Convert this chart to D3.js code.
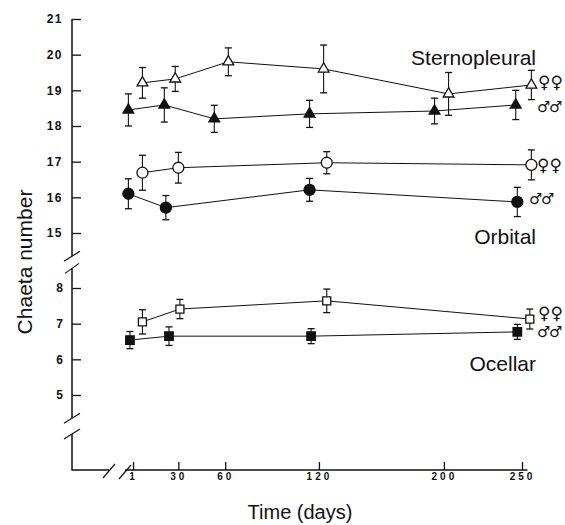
<!DOCTYPE html>
<html lang="en">
<head>
<meta charset="UTF-8">
<title>Chaeta number</title>
<script src="https://cdn.jsdelivr.net/npm/d3@7"></script>
<style>
  body { margin: 0; background: #fff; }
  text { fill: #111; }
</style>
</head>
<body>
<script>
// tick values
var dayTicks = [1, 30, 60, 120, 200, 250];
var yTicksTop = [15, 16, 17, 18, 19, 20, 21];
var yTicksLow = [5, 6, 7, 8];

// plotted day positions (males sit a little left of the tick, females right)
var sternoFemaleDay = [7, 28, 62, 123, 203, 256];
var sternoFemale = [19.21, 19.32, 19.80, 19.60, 18.90, 19.15];
var sternoFemaleSe = [0.43, 0.35, 0.39, 0.67, 0.60, 0.41];
var sternoMaleDay = [-2, 21, 53, 114, 194, 246];
var sternoMale = [18.45, 18.59, 18.20, 18.34, 18.42, 18.59];
var sternoMaleSe = [0.45, 0.48, 0.38, 0.38, 0.36, 0.41];

var orbitalFemaleDay = [7, 30, 125, 256];
var orbitalFemale = [16.69, 16.83, 16.97, 16.91];
var orbitalFemaleSe = [0.49, 0.43, 0.31, 0.42];
var orbitalMaleDay = [-2, 22, 114, 247];
var orbitalMale = [16.10, 15.71, 16.21, 15.87];
var orbitalMaleSe = [0.42, 0.34, 0.32, 0.41];

var ocellarFemaleDay = [7, 31, 125, 255];
var ocellarFemale = [7.05, 7.41, 7.64, 7.13];
var ocellarFemaleSe = [0.34, 0.27, 0.33, 0.28];
var ocellarMaleDay = [-1, 24, 115, 247];
var ocellarMale = [6.54, 6.65, 6.65, 6.77];
var ocellarMaleSe = [0.24, 0.26, 0.21, 0.21];

var width = 565, height = 525;
var ink = "#111";
var axisX = 72, axisY = 470;

var svg = d3.select("body").append("svg")
    .attr("width", width)
    .attr("height", height);

var x = d3.scaleLinear().domain([0, 250]).range([131.5, 522]);
var yTop = d3.scaleLinear().domain([15, 21]).range([233, 19]);
var yLow = d3.scaleLinear().domain([5, 8]).range([395, 288]);

// ---- axes ----
function styleAxis(g) {
    g.select(".domain").remove();
    g.selectAll("line").attr("stroke", ink).attr("stroke-width", 1.3);
    g.selectAll("text")
        .attr("font-family", "Liberation Sans, Arial, sans-serif")
        .attr("font-weight", "bold")
        .style("fill", ink);
}

svg.append("g")
    .attr("transform", "translate(" + axisX + ",0)")
    .call(d3.axisLeft(yTop).tickValues(yTicksTop).tickFormat(d3.format("d"))
        .tickSizeInner(-9).tickSizeOuter(0).tickPadding(9))
    .call(styleAxis)
    .selectAll("text").attr("font-size", 12).attr("letter-spacing", 1.5);

svg.append("g")
    .attr("transform", "translate(" + axisX + ",0)")
    .call(d3.axisLeft(yLow).tickValues(yTicksLow).tickFormat(d3.format("d"))
        .tickSizeInner(-9).tickSizeOuter(0).tickPadding(9))
    .call(styleAxis)
    .selectAll("text").attr("font-size", 12);

svg.append("g")
    .attr("transform", "translate(0," + axisY + ")")
    .call(d3.axisBottom(x).tickValues(dayTicks).tickFormat(d3.format("d"))
        .tickSizeInner(-8).tickSizeOuter(0).tickPadding(3))
    .call(styleAxis)
    .selectAll("text").attr("font-size", 10).attr("letter-spacing", 3);

// axis lines with breaks
var axisPaths = [
    [[axisX, yTop(21)], [axisX, yTop(14.35)]],
    [[axisX, yLow(8.55)], [axisX, yLow(4.35)]],
    [[axisX, 434], [axisX, axisY], [109, axisY]],
    [[125, axisY], [x(253.5), axisY]]
];
var lineGen = d3.line();
svg.selectAll("path.axisline")
    .data(axisPaths)
    .enter().append("path")
    .attr("class", "axisline")
    .attr("d", lineGen)
    .attr("fill", "none")
    .attr("stroke", ink)
    .attr("stroke-width", 1.5);

// break slashes
var slashes = [
    [axisX, yTop(14.35), 8, 5],
    [axisX, yLow(8.55), 7, 5],
    [axisX, yLow(4.35), 8, 5],
    [axisX, 434, 8, 5],
    [109, axisY + 1, 6, 7],
    [125, axisY + 2, 6, 7]
];
svg.selectAll("line.brk")
    .data(slashes)
    .enter().append("line")
    .attr("class", "brk")
    .attr("x1", function (d) { return d[0] - d[2]; })
    .attr("y1", function (d) { return d[1] + d[3]; })
    .attr("x2", function (d) { return d[0] + d[2]; })
    .attr("y2", function (d) { return d[1] - d[3]; })
    .attr("stroke", ink)
    .attr("stroke-width", 1.2);

// ---- series ----
function zip(days, vals, se) {
    return days.map(function (d, i) { return { day: d, v: vals[i], se: se[i] }; });
}

var series = [
    { pts: zip(sternoFemaleDay, sternoFemale, sternoFemaleSe), y: yTop, sym: d3.symbolTriangle, size: 50, open: true },
    { pts: zip(sternoMaleDay, sternoMale, sternoMaleSe), y: yTop, sym: d3.symbolTriangle, size: 50, open: false },
    { pts: zip(orbitalFemaleDay, orbitalFemale, orbitalFemaleSe), y: yTop, sym: d3.symbolCircle, size: 95, open: true },
    { pts: zip(orbitalMaleDay, orbitalMale, orbitalMaleSe), y: yTop, sym: d3.symbolCircle, size: 95, open: false },
    { pts: zip(ocellarFemaleDay, ocellarFemale, ocellarFemaleSe), y: yLow, sym: d3.symbolSquare, size: 64, open: true },
    { pts: zip(ocellarMaleDay, ocellarMale, ocellarMaleSe), y: yLow, sym: d3.symbolSquare, size: 72, open: false }
];

series.forEach(function (s) {
    var g = svg.append("g");
    var yS = s.y;
    var line = d3.line()
        .x(function (d) { return x(d.day); })
        .y(function (d) { return yS(d.v); });

    g.append("path")
        .datum(s.pts)
        .attr("d", line)
        .attr("fill", "none")
        .attr("stroke", ink)
        .attr("stroke-width", 1);

    // error bars
    var eb = g.selectAll("g.eb").data(s.pts).enter().append("g");
    eb.append("line")
        .attr("x1", function (d) { return x(d.day); })
        .attr("x2", function (d) { return x(d.day); })
        .attr("y1", function (d) { return yS(d.v - d.se); })
        .attr("y2", function (d) { return yS(d.v + d.se); })
        .attr("stroke", ink).attr("stroke-width", 1.1);
    [1, -1].forEach(function (sgn) {
        eb.append("line")
            .attr("x1", function (d) { return x(d.day) - 3.5; })
            .attr("x2", function (d) { return x(d.day) + 3.5; })
            .attr("y1", function (d) { return yS(d.v + sgn * d.se); })
            .attr("y2", function (d) { return yS(d.v + sgn * d.se); })
            .attr("stroke", ink).attr("stroke-width", 1.3);
    });

    g.selectAll("path.pt").data(s.pts).enter().append("path")
        .attr("class", "pt")
        .attr("transform", function (d) { return "translate(" + x(d.day) + "," + yS(d.v) + ")"; })
        .attr("d", d3.symbol().type(s.sym).size(s.size))
        .attr("fill", s.open ? "#fff" : ink)
        .attr("stroke", ink)
        .attr("stroke-width", 1.3);
});

// ---- sex symbols ----
var sexLabels = [
    { t: "\u2640\u2640", x: 538, y: 82, fs: 17 },
    { t: "\u2642\u2642", x: 537, y: 107, fs: 15 },
    { t: "\u2640\u2640", x: 537, y: 165, fs: 17 },
    { t: "\u2642\u2642", x: 529, y: 199, fs: 15 },
    { t: "\u2640\u2640", x: 538, y: 313, fs: 17 },
    { t: "\u2642\u2642", x: 537, y: 332, fs: 15 }
];
svg.selectAll("text.sex")
    .data(sexLabels)
    .enter().append("text")
    .attr("class", "sex")
    .attr("x", function (d) { return d.x; })
    .attr("y", function (d) { return d.y; })
    .attr("dominant-baseline", "central")
    .attr("font-family", "DejaVu Sans, sans-serif")
    .attr("font-size", function (d) { return d.fs; })
    .attr("letter-spacing", function (d) { return d.fs === 15 ? -1.5 : 0; })
    .text(function (d) { return d.t; });

// ---- group names ----
var groupNames = [
    { t: "Sternopleural", y: 65 },
    { t: "Orbital", y: 244 },
    { t: "Ocellar", y: 371 }
];
svg.selectAll("text.grp")
    .data(groupNames)
    .enter().append("text")
    .attr("class", "grp")
    .attr("x", 536)
    .attr("y", function (d) { return d.y; })
    .attr("text-anchor", "end")
    .attr("font-family", "Liberation Sans, Arial, sans-serif")
    .attr("font-size", 21)
    .text(function (d) { return d.t; });

// axis titles
svg.append("text")
    .attr("x", 300)
    .attr("y", 519)
    .attr("text-anchor", "middle")
    .attr("font-family", "Liberation Sans, Arial, sans-serif")
    .attr("font-size", 20)
    .text("Time (days)");

svg.append("text")
    .attr("transform", "translate(32,262) rotate(-90)")
    .attr("text-anchor", "middle")
    .attr("font-family", "Liberation Sans, Arial, sans-serif")
    .attr("font-size", 21)
    .text("Chaeta number");
</script>
</body>
</html>
